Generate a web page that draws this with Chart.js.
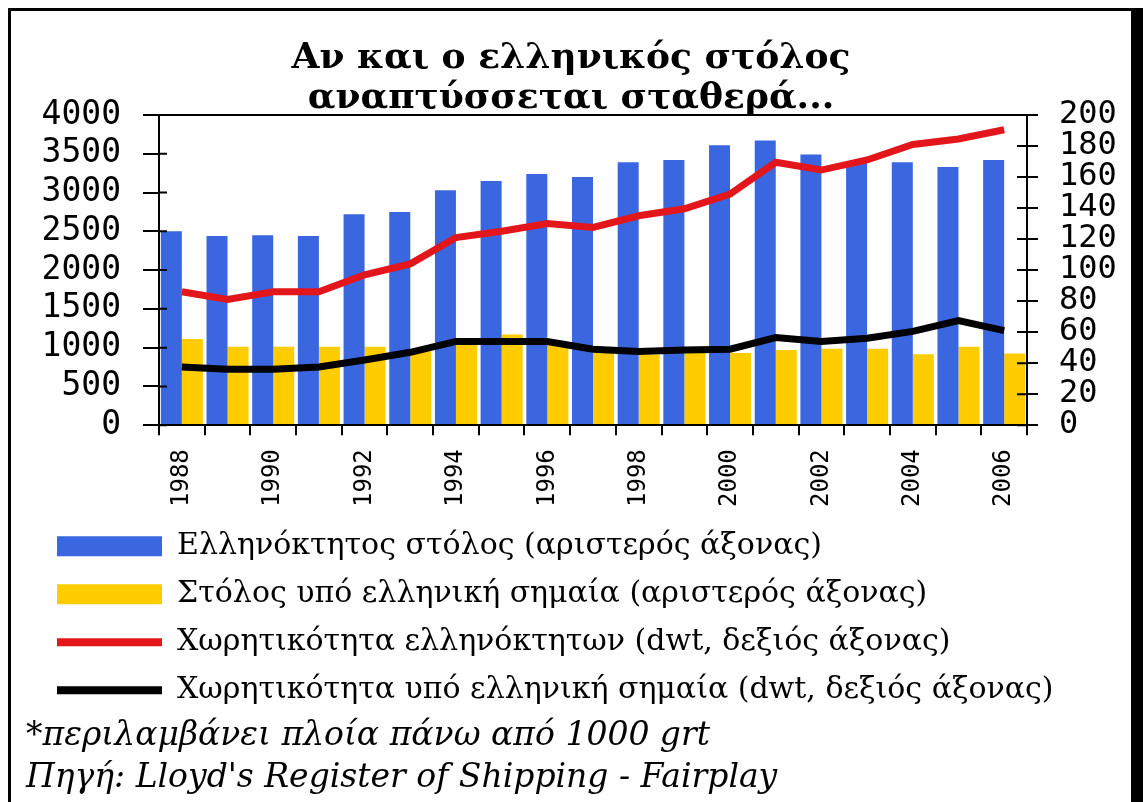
<!DOCTYPE html>
<html>
<head>
<meta charset="utf-8">
<script src="https://cdn.jsdelivr.net/npm/chart.js@4.4.1/dist/chart.umd.min.js"></script>
<style>
html,body{margin:0;padding:0;background:#fff;width:1143px;height:802px;overflow:hidden}
#frame{position:absolute;left:8px;top:8px;width:1135px;height:794px;box-sizing:border-box;border-left:3px solid #000;border-top:3px solid #000;border-right:12px solid #000}
#wrap{position:absolute;left:0;top:0;width:1120px;height:788px}
</style>
</head>
<body>
<div id="frame"><div id="wrap"><canvas id="c"></canvas></div></div>
<script>
const years = ['1988','1989','1990','1991','1992','1993','1994','1995','1996','1997','1998','1999','2000','2001','2002','2003','2004','2005','2006'];
const greekOwnedFleet = [2500,2440,2450,2440,2720,2750,3030,3150,3240,3200,3390,3420,3610,3670,3490,3380,3390,3330,3420];
const greekFlagFleet = [1110,1010,1010,1010,1010,960,1050,1170,1040,950,910,930,930,970,985,985,915,1010,925];
const greekOwnedDwt = [86,81,86,86,97,104,121,125,130,127.5,135,139.5,149,169.5,164.5,171,181,184.5,190.5];
const greekFlagDwt = [37.5,36,36,37.5,42,47,54,54,54,49,47.5,48.5,49,56.5,54,56,60.5,67.5,61];
const seriesNames = [
  'Ελληνόκτητος στόλος (αριστερός άξονας)',
  'Στόλος υπό ελληνική σημαία (αριστερός άξονας)',
  'Χωρητικότητα ελληνόκτητων (dwt, δεξιός άξονας)',
  'Χωρητικότητα υπό ελληνική σημαία (dwt, δεξιός άξονας)'
];
const titleLines = ['Αν και ο ελληνικός στόλος', 'αναπτύσσεται σταθερά...'];
const noteLines = ['*περιλαμβάνει πλοία πάνω από 1000 grt', "Πηγή: Lloyd's Register of Shipping - Fairplay"];

const BLUE = '#3a66e0', YELLOW = '#ffcc00', RED = '#e3161b', BLACK = '#000000';

const crossTicks = {
  id: 'crossTicks',
  afterDatasetsDraw(chart) {
    const ctx = chart.ctx, ca = chart.chartArea;
    const y = chart.scales.y, y1 = chart.scales.y1;
    ctx.save();
    ctx.strokeStyle = '#000';
    ctx.lineWidth = 2;
    ctx.beginPath();
    ctx.moveTo(ca.left, ca.top);
    ctx.lineTo(ca.right, ca.top);
    y.ticks.forEach(t => {
      const py = y.getPixelForValue(t.value);
      ctx.moveTo(ca.left, py); ctx.lineTo(ca.left + 8, py);
    });
    y1.ticks.forEach(t => {
      const py = y1.getPixelForValue(t.value);
      ctx.moveTo(ca.right - 10, py); ctx.lineTo(ca.right, py);
    });
    ctx.stroke();
    ctx.restore();
  }
};

const shiftBoxes = {
  id: 'shiftBoxes',
  afterLayout(chart) {
    const lg = chart.legend;
    if (lg) { lg.left += 28; lg.right += 28; }
    const st = chart.subtitleBlock || (chart.boxes || []).find(b => b.options && b.options.text === noteLines);
    if (st) { st.left += 15; st.right += 15; }
  }
};

const plainNum = v => String(v);

const ctx = document.getElementById('c').getContext('2d');
new Chart(ctx, {
  type: 'bar',
  data: {
    labels: years,
    datasets: [
      { type: 'bar', label: seriesNames[0], data: greekOwnedFleet, backgroundColor: BLUE, borderWidth: 0, yAxisID: 'y', order: 2, categoryPercentage: 0.92, barPercentage: 1.0 },
      { type: 'bar', label: seriesNames[1], data: greekFlagFleet, backgroundColor: YELLOW, borderWidth: 0, yAxisID: 'y', order: 3, categoryPercentage: 0.92, barPercentage: 1.0 },
      { type: 'line', label: seriesNames[2], data: greekOwnedDwt, borderColor: RED, backgroundColor: RED, borderWidth: 7, pointRadius: 0, tension: 0, fill: false, yAxisID: 'y1', order: 1 },
      { type: 'line', label: seriesNames[3], data: greekFlagDwt, borderColor: BLACK, backgroundColor: BLACK, borderWidth: 7, pointRadius: 0, tension: 0, fill: false, yAxisID: 'y1', order: 0 }
    ]
  },
  options: {
    responsive: true,
    maintainAspectRatio: false,
    animation: false,
    layout: { padding: 0 },
    scales: {
      x: {
        type: 'category',
        offset: true,
        afterFit(s) { s.height = 88; },
        grid: { offset: true, drawOnChartArea: false, drawTicks: true, tickLength: 10, color: '#000', lineWidth: 2, z: 1 },
        border: { display: true, color: '#000', width: 2, z: 1 },
        ticks: {
          autoSkip: false, maxRotation: 90, minRotation: 90, padding: 14, color: '#000',
          font: { family: 'DejaVu Sans Mono', size: 24 },
          callback(val, idx) { return idx % 2 === 0 ? this.getLabelForValue(val) : ''; }
        }
      },
      y: {
        position: 'left', min: 0, max: 4000,
        afterFit(s) { s.width = 148; },
        grid: { drawOnChartArea: false, drawTicks: true, tickLength: 16, color: '#000', lineWidth: 2, z: 1 },
        border: { display: true, color: '#000', width: 2, z: 1 },
        ticks: { stepSize: 500, autoSkip: false, padding: 22, color: '#000', font: { family: 'DejaVu Sans Mono', size: 33, lineHeight: 1 }, callback: plainNum }
      },
      y1: {
        position: 'right', min: 0, max: 200,
        afterFit(s) { s.width = 104; },
        grid: { drawOnChartArea: false, drawTicks: true, tickLength: 11, color: '#000', lineWidth: 2, z: 1 },
        border: { display: true, color: '#000', width: 2, z: 1 },
        ticks: { stepSize: 20, autoSkip: false, padding: 21, color: '#000', font: { family: 'DejaVu Sans Mono', size: 32, lineHeight: 1 }, callback: plainNum }
      }
    },
    plugins: {
      title: {
        display: true, text: titleLines, color: '#000',
        font: { family: 'DejaVu Serif', size: 36, weight: 'bold', lineHeight: 1.111 },
        padding: { top: 28, bottom: -4 }
      },
      subtitle: {
        display: true, text: noteLines, position: 'bottom', align: 'start', color: '#000',
        font: { family: 'DejaVu Serif', size: 33, style: 'italic', lineHeight: 1.27 },
        padding: { top: 0, bottom: 0 }
      },
      legend: {
        display: true, position: 'bottom', align: 'start',
        labels: {
          usePointStyle: true, pointStyleWidth: 105, boxHeight: 20, padding: 18, color: '#000',
          font: { family: 'DejaVu Serif', size: 30 },
          sort: (a, b) => a.datasetIndex - b.datasetIndex,
          generateLabels(chart) {
            const items = Chart.defaults.plugins.legend.labels.generateLabels(chart);
            items.forEach(it => {
              const ds = chart.data.datasets[it.datasetIndex];
              if (ds.type === 'line') {
                it.pointStyle = 'line'; it.lineWidth = 8; it.strokeStyle = ds.borderColor; it.fillStyle = ds.borderColor;
              } else {
                it.pointStyle = 'rect'; it.lineWidth = 0; it.fillStyle = ds.backgroundColor; it.strokeStyle = ds.backgroundColor;
              }
            });
            return items;
          }
        }
      },
      tooltip: { enabled: false }
    }
  },
  plugins: [crossTicks, shiftBoxes]
});
</script>
</body>
</html>
